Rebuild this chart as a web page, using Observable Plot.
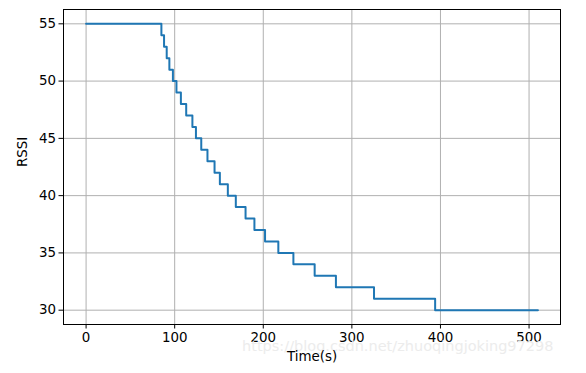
<!DOCTYPE html>
<html>
<head>
<meta charset="utf-8">
<script src="https://cdn.jsdelivr.net/npm/d3@7"></script>
<script src="https://cdn.jsdelivr.net/npm/@observablehq/plot@0.6"></script>
<style>
  html, body { margin: 0; padding: 0; background: #fff; }
  svg { display: block; }
</style>
</head>
<body>
<div id="chart"></div>
<script>
// Step change times (s) and the RSSI level held from each time on
const times = [0, 85, 88, 91, 94, 98, 102, 107, 113, 120, 124, 130, 137, 145, 151, 160, 169, 180, 190, 202, 217, 234, 258, 282, 325, 394, 510];
const rssi  = [55, 54, 53, 52, 51, 50, 49, 48, 47, 46, 45, 44, 43, 42, 41, 40, 39, 38, 37, 36, 35, 34, 33, 32, 31, 30, 30];
const xTicks = [0, 100, 200, 300, 400, 500];
const yTicks = [30, 35, 40, 45, 50, 55];
const xLabel = ["Time(s)"];
const yLabel = ["RSSI"];
const watermark = ["https://blog.csdn.net/zhuoqingjoking97298"];

const data = times.map((t, i) => ({t, v: rssi[i]}));
const font = "DejaVu Sans";
const fs = 13.4;

const chart = Plot.plot({
  width: 586,
  height: 373,
  marginLeft: 63,
  marginRight: 26,
  marginTop: 9,
  marginBottom: 49,
  style: {fontFamily: font, fontSize: fs + "px", background: "#fff", color: "#000"},
  x: {domain: [-25.5, 535.5]},
  y: {domain: [28.75, 56.25]},
  marks: [
    Plot.gridX(xTicks, {stroke: "#b0b0b0", strokeOpacity: 1, strokeWidth: 1}),
    Plot.gridY(yTicks, {stroke: "#b0b0b0", strokeOpacity: 1, strokeWidth: 1}),
    Plot.line(data, {x: "t", y: "v", curve: "step-after", stroke: "#1f77b4", strokeWidth: 2}),
    Plot.frame({stroke: "#000", strokeWidth: 1}),
    Plot.axisX(xTicks, {tickSize: 4.5, tickPadding: 3, label: null, fontSize: fs, stroke: "#000"}),
    Plot.axisY(yTicks, {tickSize: 4.5, tickPadding: 3, label: null, fontSize: fs, stroke: "#000"}),
    Plot.text(watermark, {frameAnchor: "bottom-right", dx: -7, dy: 26, textAnchor: "end", text: d => d, fontSize: 14.5, fill: "#ececec"}),
    Plot.text(xLabel, {frameAnchor: "bottom", dy: 36, text: d => d, fontSize: fs, fill: "#000"}),
    Plot.text(yLabel, {frameAnchor: "left", dx: -41, rotate: -90, text: d => d, fontSize: fs, fill: "#000"})
  ]
});
document.getElementById("chart").appendChild(chart);
</script>
</body>
</html>
